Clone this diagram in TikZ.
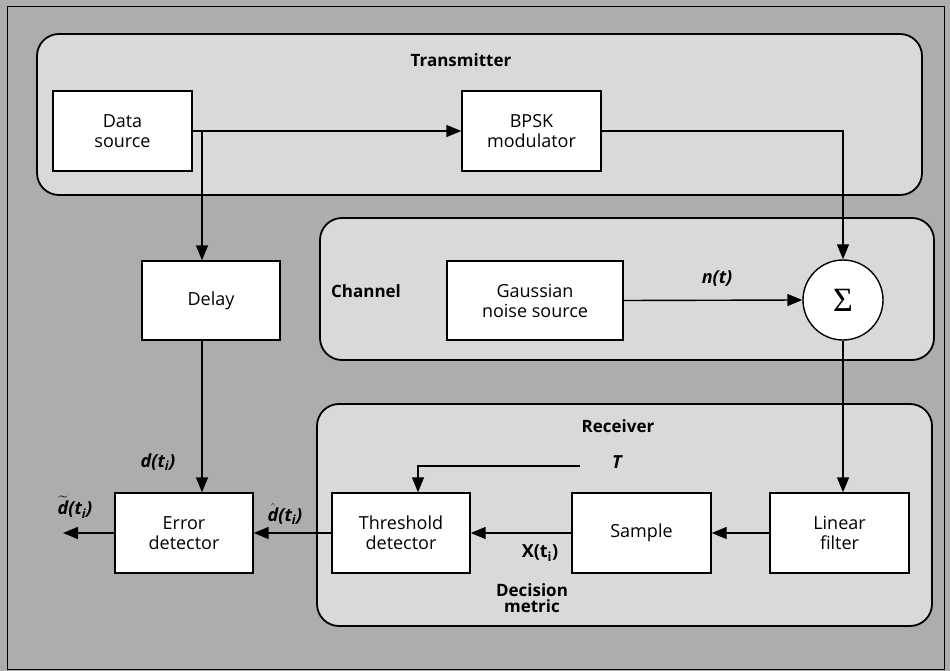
\documentclass[tikz,border=0pt]{standalone}
\usepackage{amsmath}
\usepackage{fontspec}
\setmainfont{Open Sans}
\newfontfamily\sigfont{Liberation Serif}
\usetikzlibrary{arrows.meta}
\definecolor{outgray}{gray}{0.68}
\definecolor{panelgray}{gray}{0.85}

\begin{document}
\begin{tikzpicture}[x=1pt,y=-1pt,
    blk/.style={draw, line width=1.4pt, fill=white, minimum height=80pt, inner sep=0pt,
        align=center, font=\fontsize{18}{20}\selectfont},
    panel/.style={draw, line width=1.8pt, fill=panelgray, rounded corners=22pt},
    sig/.style={line width=1.4pt, -{Triangle[length=15pt,width=12pt]}},
    ttl/.style={align=center, font=\fontsize{17}{19}\selectfont\bfseries},
    lbl/.style={font=\fontsize{18}{20}\selectfont\bfseries\itshape}]
    \useasboundingbox (0,0) rectangle (950,671);
    \fill[outgray] (0,0) rectangle (950,671);
    \draw[line width=0.8pt] (7,6) rectangle (944,669);

    % panels
    \draw[panel] (37,34) rectangle (922,195);
    \draw[panel] (320,218) rectangle (934,360);
    \draw[panel] (317,404) rectangle (932,626);
    \node[ttl] (txt) at (461,60) {Transmitter};
    \node[ttl] (chl) at (366,291) {Channel};
    \node[ttl] (rxt) at (618,426) {Receiver};
    \node[ttl] (dmt) at (532,598) {Decision\\[-3pt]metric};

    % blocks
    \node[blk, minimum width=139pt] (src) at (122.5,131) {Data\\source};
    \node[blk, minimum width=139pt] (bpsk) at (531.5,131) {BPSK\\modulator};
    \node[blk, minimum width=138pt, minimum height=79pt] (delay) at (211,300.5) {Delay};
    \node[blk, minimum width=176pt, minimum height=79pt] (gauss) at (535,300.5) {Gaussian\\noise source};
    \node[draw, circle, line width=1.4pt, fill=white, minimum size=80pt, inner sep=0pt,
        font=\sigfont\fontsize{34}{34}\selectfont] (sum) at (843,300) {Σ};
    \node[blk, minimum width=138pt] (err) at (184,533) {Error\\detector};
    \node[blk, minimum width=138pt] (thr) at (401,533) {Threshold\\detector};
    \node[blk, minimum width=139pt] (smp) at (641.5,533) {Sample};
    \node[blk, minimum width=139pt] (lin) at (839.5,533) {Linear\\filter};

    \coordinate (br) at (202,131);
    \coordinate (tsrc) at (580,466);
    \coordinate (tdrop) at (418,466);
    \coordinate (out) at (63,533);

    % connectors
    \draw[sig] (src.east) -- (bpsk.west);
    \draw[sig] (br) -- (delay.north -| br);
    \draw[sig] (delay.south -| br) -- (err.north -| br);
    \draw[sig] (bpsk.east) -| (sum.north);
    \draw[sig] (gauss.east) -- (sum.west);
    \draw[sig] (sum.south) -- (sum.south |- lin.north);
    \draw[sig] (lin.west) -- (smp.east);
    \draw[sig] (smp.west) -- (thr.east);
    \draw[sig] (thr.west) -- (err.east);
    \draw[sig] (err.west) -- (out);
    \draw[sig] (tsrc) -- (tdrop) -- (tdrop |- thr.north);

    % signal labels
    \node[lbl] (nt) at (717,278) {n(t)};
    \node[lbl] (tt) at (617,462) {T};
    \node[lbl] (dt) at (158,462) {d(t\textsubscript{i})};
    \node[lbl] (dhat) at (285,514) {$\hat{\text{\bfseries\itshape d}}$(t\textsubscript{i})};
    \node[lbl] (dtil) at (75,507) {$\widetilde{\text{\bfseries\itshape d}}$(t\textsubscript{i})};
    \node[font=\fontsize{18}{20}\selectfont\bfseries] (xt) at (540,553) {X(t\textsubscript{i})};
\end{tikzpicture}
\end{document}
